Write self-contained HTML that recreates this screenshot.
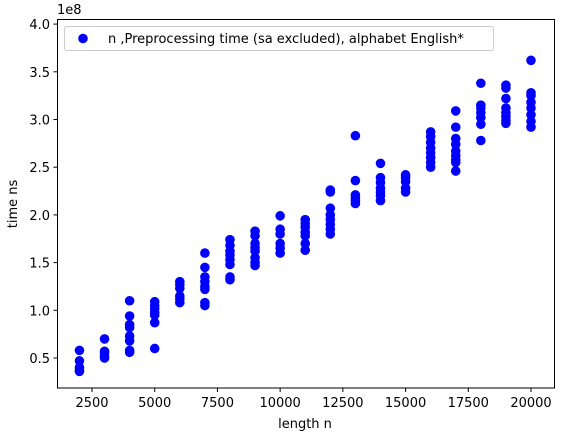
<!DOCTYPE html>
<html><head><meta charset="utf-8">
<style>
html,body{margin:0;padding:0;background:#fff;}
svg{display:block;font-family:"DejaVu Sans","Liberation Sans",sans-serif;}
</style></head>
<body>
<svg id="chart" width="570" height="436" viewBox="0 0 570 436">
  <rect x="0" y="0" width="570" height="436" fill="#fff"/>
  <g id="marks"></g>
  <g id="xticks"></g>
  <g id="yticks"></g>
  <rect x="57.5" y="19.5" width="497" height="368.5" fill="none" stroke="#000" stroke-width="1"/>
  <text x="57" y="14" font-size="13">1e8</text>
  <text x="305" y="428" font-size="13" text-anchor="middle">length n</text>
  <text transform="translate(17,204) rotate(-90)" font-size="13" text-anchor="middle">time ns</text>
  <g>
    <rect x="64.5" y="26.5" width="429" height="24" rx="2" fill="#fff" fill-opacity="0.8" stroke="#ccc"/>
    <circle cx="83" cy="38.5" r="4.8" fill="#0000ff"/>
    <text x="108" y="43" font-size="13">n ,Preprocessing time (sa excluded), alphabet English*</text>
  </g>
</svg>
<script>
const lengths = [2000,3000,4000,5000,6000,7000,8000,9000,10000,11000,12000,13000,14000,15000,16000,17000,18000,19000,20000];
const times = [
  [0.58,0.47,0.40,0.37,0.36],
  [0.70,0.57,0.55,0.52,0.50],
  [1.10,0.94,0.85,0.82,0.73,0.68,0.58,0.56],
  [1.09,1.05,1.02,0.98,0.95,0.87,0.60],
  [1.30,1.27,1.23,1.15,1.12,1.08],
  [1.60,1.45,1.35,1.30,1.25,1.22,1.08,1.05],
  [1.74,1.68,1.62,1.58,1.53,1.48,1.35,1.32],
  [1.83,1.78,1.70,1.66,1.62,1.55,1.50,1.47],
  [1.99,1.85,1.80,1.70,1.65,1.60],
  [1.95,1.91,1.87,1.82,1.78,1.70,1.63],
  [2.26,2.24,2.07,2.00,1.95,1.90,1.85,1.80],
  [2.83,2.36,2.21,2.18,2.15,2.12],
  [2.54,2.39,2.34,2.28,2.24,2.20,2.15],
  [2.42,2.39,2.35,2.28,2.24],
  [2.87,2.82,2.76,2.70,2.65,2.60,2.55,2.50],
  [3.09,2.92,2.80,2.74,2.67,2.62,2.58,2.55,2.46],
  [3.38,3.15,3.12,3.07,3.02,2.95,2.78],
  [3.36,3.33,3.22,3.12,3.07,3.03,2.99,2.96],
  [3.62,3.28,3.25,3.18,3.12,3.05,2.98,2.92]
];
const xTickValues = [2500,5000,7500,10000,12500,15000,17500,20000];
const yTickValues = [0.5,1.0,1.5,2.0,2.5,3.0,3.5,4.0];

const NS = 'http://www.w3.org/2000/svg';
function xScale(v){ return 92 + (v - 2500) * (439 / 17500); }
function yScale(v){ return 358 - (v - 0.5) * 95.4; }

const marks = document.getElementById('marks');
lengths.forEach((len, i) => {
  times[i].forEach((t, j) => {
    const c = document.createElementNS(NS, 'circle');
    c.setAttribute('cx', xScale(len));
    c.setAttribute('cy', yScale(t));
    c.setAttribute('r', 4.8);
    c.setAttribute('fill', '#0000ff');
    
    
    marks.appendChild(c);
  });
});

const xt = document.getElementById('xticks');
xTickValues.forEach(v => {
  const x = xScale(v);
  const l = document.createElementNS(NS, 'line');
  l.setAttribute('x1', x); l.setAttribute('x2', x);
  l.setAttribute('y1', 388); l.setAttribute('y2', 392);
  l.setAttribute('stroke', '#000');
  
  
  xt.appendChild(l);
  const t = document.createElementNS(NS, 'text');
  t.setAttribute('x', x); t.setAttribute('y', 407);
  t.setAttribute('font-size', '13');
  t.setAttribute('text-anchor', 'middle');
  
  
  t.textContent = String(v);
  xt.appendChild(t);
});

const yt = document.getElementById('yticks');
yTickValues.forEach(v => {
  const y = yScale(v);
  const l = document.createElementNS(NS, 'line');
  l.setAttribute('x1', 53.5); l.setAttribute('x2', 57.5);
  l.setAttribute('y1', y); l.setAttribute('y2', y);
  l.setAttribute('stroke', '#000');
  
  
  yt.appendChild(l);
  const t = document.createElementNS(NS, 'text');
  t.setAttribute('x', 50); t.setAttribute('y', y + 5);
  t.setAttribute('font-size', '13');
  t.setAttribute('text-anchor', 'end');
  
  
  t.textContent = v.toFixed(1);
  yt.appendChild(t);
});
</script>
</body></html>
